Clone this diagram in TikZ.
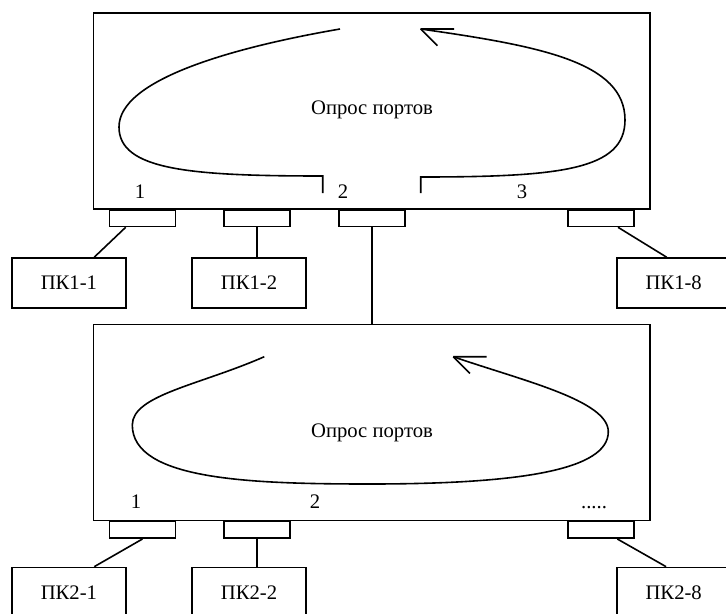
\documentclass[tikz,border=0pt]{standalone}
\usepackage{fontspec}
\setmainfont{Liberation Serif}

\begin{document}
\begin{tikzpicture}[
	x=0.75pt, y=-0.75pt,
	line width=1.2pt,
	every node/.style={font=\fontsize{15.5}{18}\selectfont},
	hubnode/.style={
	  draw,
	  inner sep=0pt,
	  minimum width=417.5pt,
	  minimum height=147pt
	  },
	portnode/.style={
	  draw,
	  inner sep=0pt,
	  minimum width=49.5pt,
	  minimum height=12.5pt
	  },
	pcnode/.style={
	  draw,
	  inner sep=0pt,
	  minimum width=85.5pt,
	  minimum height=37.5pt
	  },
	num/.style={anchor=base}
	]
		\useasboundingbox (0,0) rectangle (726,614);

		% switches
		\node[hubnode] (sw1) at (371.7,111) {};
		\node[hubnode] (sw2) at (371.7,422.4) {};

		% ports
		\node[portnode,anchor=north] (p11) at (142.5,209) {};
		\node[portnode,anchor=north] (p12) at (257.2,209) {};
		\node[portnode,anchor=north] (p13) at (371.7,209) {};
		\node[portnode,anchor=north] (p14) at (600.8,209) {};
		\node[portnode,anchor=north] (p21) at (142.5,520.7) {};
		\node[portnode,anchor=north] (p22) at (257.2,520.7) {};
		\node[portnode,anchor=north] (p24) at (600.8,520.7) {};

		% computers
		\node[pcnode] (pc11) at (68.9,283) {ПК1-1};
		\node[pcnode] (pc12) at (249,283) {ПК1-2};
		\node[pcnode] (pc18) at (673.7,283) {ПК1-8};
		\node[pcnode] (pc21) at (68.9,592.5) {ПК2-1};
		\node[pcnode] (pc22) at (249,592.5) {ПК2-2};
		\node[pcnode] (pc28) at (673.7,592.5) {ПК2-8};

		% port numbers
		\node[num] (n11) at (140,198) {1};
		\node[num] (n12) at (343,198) {2};
		\node[num] (n13) at (522,198) {3};
		\node[num] (n21) at (136,508) {1};
		\node[num] (n22) at (315,508) {2};
		\node[num] (n2x) at (594,508) {.....};

		\node[anchor=base] (poll1) at (372,114) {Опрос портов};
		\node[anchor=base] (poll2) at (372,437) {Опрос портов};

		\draw
			([xshift=-12.6pt]p11.south) -- ([xshift=19pt]pc11.north);
		\draw
			(p12.south) -- (p12.south |- pc12.north);
		\draw
			([xshift=12.9pt]p14.south) -- ([xshift=-5.3pt]pc18.north);
		\draw
			(p13.south) -- (p13.south |- sw2.north);
		\draw
			(p21.south) -- ([xshift=19pt]pc21.north);
		\draw
			(p22.south) -- (p22.south |- pc22.north);
		\draw
			([xshift=12.4pt]p24.south) -- ([xshift=-5.7pt]pc28.north);

		% polling loops
		\coordinate (tip1) at (420.7,29);
		\coordinate (tip2) at (453.3,356.7);
		\draw (322.7,193) -- (322.7,176)
			.. controls (190,176) and (119,170) .. (119,127)
			.. controls (119,80) and (230,48) .. (340,29);
		\draw (420.7,193) -- (420.7,177)
			.. controls (560,177) and (625,170) .. (625,120)
			.. controls (625,62) and (540,46) .. (tip1);
		\draw (tip1) -- ++(33.3,0) (tip1) -- ++(16.7,16.7);
		\draw (264.3,356.7)
			.. controls (200,385) and (132.3,395) .. (132.3,425)
			.. controls (132.3,480) and (250,484) .. (370,484)
			.. controls (520,484) and (608.3,470) .. (608.3,431.7)
			.. controls (608.3,400) and (520,380) .. (tip2);
		\draw (tip2) -- ++(33.3,0) (tip2) -- ++(16.7,16.7);
	\end{tikzpicture}
\end{document}
